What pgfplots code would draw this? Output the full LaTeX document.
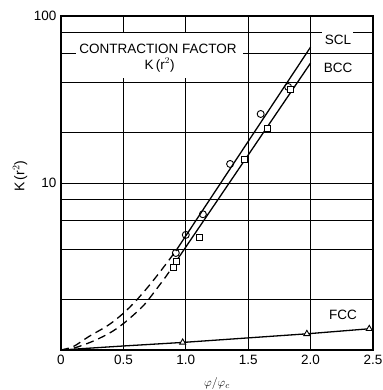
\documentclass[border=0pt]{standalone}
\usepackage{fontspec}
\setmainfont{Liberation Sans}
\usepackage{pgfplots}
\pgfplotsset{compat=1.18}
\begin{document}
\begin{tikzpicture}
\useasboundingbox (-61bp,-40bp) rectangle (322bp,350bp);
\begin{axis}[
  at={(0,0)}, anchor=south west,
  scale only axis, width=312bp, height=334bp,
  xmin=0, xmax=2.5, ymode=log, ymin=1, ymax=100,
  xtick={0,0.5,1,1.5,2,2.5}, xticklabels={0,0.5,1.0,1.5,2.0,2.5},
  ytick={1,2,4,6,8,10,20,40,60,80,100}, yticklabels={,,,,,10,,,,,100},
  grid=major, grid style={black, line width=0.8bp},
  axis line style={line width=1.4bp},
  major tick length=0pt,
  tick label style={font=\fontsize{13.5bp}{15bp}\selectfont},
  xticklabel style={yshift=-2bp},
  yticklabel style={xshift=-1bp},
  xlabel={$\varphi/\varphi_c$},
  xlabel style={at={(axis description cs:0.5,0)}, anchor=north, yshift=-24bp, font=\fontsize{13bp}{15bp}\selectfont},
  ylabel={K\,(r$^2$)},
  ylabel style={at={(axis description cs:-0.131,0.52)}, anchor=center, font=\fontsize{14bp}{16bp}\selectfont},
]
% white label boxes interrupting the grid
\fill[white] (axis cs:0.12,42.5) rectangle (axis cs:1.46,79);
\fill[white] (axis cs:2.09,74) rectangle (axis cs:2.34,86);
% SCL
\addplot[black, line width=1.3bp, dash pattern=on 8bp off 5bp, smooth] coordinates {(0,1.0) (0.1,1.05) (0.22,1.2) (0.38,1.41) (0.5,1.66) (0.6,1.97) (0.7,2.40) (0.8,2.98) (0.92,3.92)};
\addplot[black, line width=1.3bp] coordinates {(0.92,3.92) (2.0,65.2)};
\addplot[only marks, mark=o, mark size=3.5bp, mark options={fill=white, line width=0.9bp}] coordinates {(0.92,3.81) (1.0,4.89) (1.137,6.5) (1.355,13.0) (1.6,25.9) (1.82,37.6)};
% BCC
\addplot[black, line width=1.3bp, dash pattern=on 8bp off 5bp, smooth] coordinates {(0,1.0) (0.11,1.03) (0.27,1.14) (0.41,1.29) (0.52,1.48) (0.64,1.78) (0.70,2.0) (0.84,2.75) (0.9,3.21)};
\addplot[black, line width=1.3bp] coordinates {(0.9,3.21) (2.0,52.3)};
\addplot[only marks, mark=square*, mark size=3bp, mark options={fill=white, line width=0.9bp}] coordinates {(0.9,3.14) (0.927,3.41) (1.113,4.69) (1.47,13.9) (1.653,21.3) (1.84,36.1)};
% FCC
\addplot[black, line width=1.3bp] coordinates {(0,1.0) (0.5,1.057) (0.975,1.11) (1.97,1.25) (2.47,1.34)};
\addplot[only marks, mark=triangle*, mark size=3.5bp, mark options={fill=white, line width=0.9bp}] coordinates {(0.975,1.11) (1.97,1.25) (2.47,1.34)};
% labels
\node[font=\fontsize{13.5bp}{15bp}\selectfont] at (axis cs:0.778,63.4) {CONTRACTION FACTOR};
\node[font=\fontsize{13.5bp}{15bp}\selectfont] at (axis cs:0.79,50.9) {K\,(r$^2$)};
\node[font=\fontsize{13.5bp}{15bp}\selectfont] at (axis cs:2.22,71.8) {SCL};
\node[font=\fontsize{13.5bp}{15bp}\selectfont] at (axis cs:2.22,48.9) {BCC};
\node[font=\fontsize{13.5bp}{15bp}\selectfont] at (axis cs:2.26,1.62) {FCC};
\end{axis}
\end{tikzpicture}
\end{document}
